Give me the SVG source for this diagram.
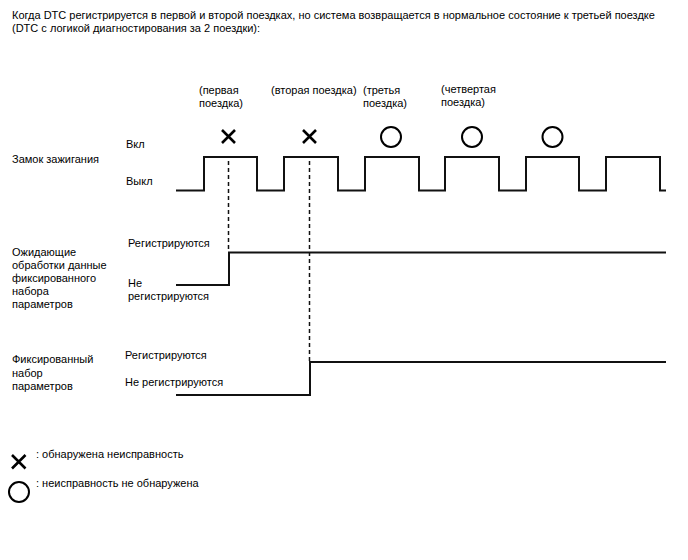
<svg xmlns="http://www.w3.org/2000/svg" width="688" height="560" viewBox="0 0 688 560">
<style>
text{font-family:"Liberation Sans",Arial,sans-serif;font-size:11px;fill:#000}
.w{fill:none;stroke:#111;stroke-width:2;stroke-linejoin:miter}
.d{fill:none;stroke:#111;stroke-width:1.5;stroke-dasharray:4 3}
.x{stroke:#000;stroke-width:2.6;fill:none}
.o{stroke:#000;stroke-width:2;fill:none}
</style>
<rect width="688" height="560" fill="#fff"/>
<g id="title">
<text x="12" y="19">Когда DTC регистрируется в первой и второй поездках, но система возвращается в нормальное состояние к третьей поездке</text>
<text x="12" y="32">(DTC с логикой диагностирования за 2 поездки):</text>
</g>
<g id="trip-labels">
<text x="199" y="94">(первая</text>
<text x="199" y="107">поездка)</text>
<text x="271" y="94">(вторая поездка)</text>
<text x="363" y="94">(третья</text>
<text x="363" y="107">поездка)</text>
<text x="441" y="93">(четвертая</text>
<text x="441" y="106">поездка)</text>
</g>
<g id="marks">
<path class="x" d="M222 130 L235 143 M235 130 L222 143"/>
<path class="x" d="M303 130 L316 143 M316 130 L303 143"/>
<circle class="o" cx="391" cy="137" r="10"/>
<circle class="o" cx="472" cy="137" r="10"/>
<circle class="o" cx="552.5" cy="137" r="10"/>
</g>
<g id="ignition">
<text x="12" y="163">Замок зажигания</text>
<text x="126" y="148">Вкл</text>
<text x="126" y="185">Выкл</text>
</g>
<g id="pending">
<text x="12" y="256">Ожидающие</text>
<text x="12" y="269">обработки данные</text>
<text x="12" y="282">фиксированного</text>
<text x="12" y="295">набора</text>
<text x="12" y="308">параметров</text>
<text x="128" y="247">Регистрируются</text>
<text x="128" y="287">Не</text>
<text x="128" y="300">регистрируются</text>
</g>
<g id="freeze">
<text x="12" y="363">Фиксированный</text>
<text x="12" y="377">набор</text>
<text x="12" y="390">параметров</text>
<text x="125" y="359">Регистрируются</text>
<text x="125" y="386">Не регистрируются</text>
</g>
<g id="connectors">
<path class="w" d="M176 190.5 H204 V157 H257 V190.5 H284 V157 H338 V190.5 H365 V157 H419 V190.5 H445 V157 H499 V190.5 H526 V157 H579 V190.5 H606 V157 H660 V190.5 H666"/>
<path class="w" d="M176 285 H229 V252.5 H666"/>
<path class="w" d="M176 395 H310 V362 H666"/>
<path class="d" d="M228.5 161 V252"/>
<path class="d" d="M309.5 161 V361"/>
</g>
<g id="legend">
<path class="x" d="M12 455 L25.5 468.5 M25.5 455 L12 468.5"/>
<circle class="o" cx="19" cy="492" r="10"/>
<text x="36" y="458">: обнаружена неисправность</text>
<text x="36" y="487">: неисправность не обнаружена</text>
</g>
</svg>
